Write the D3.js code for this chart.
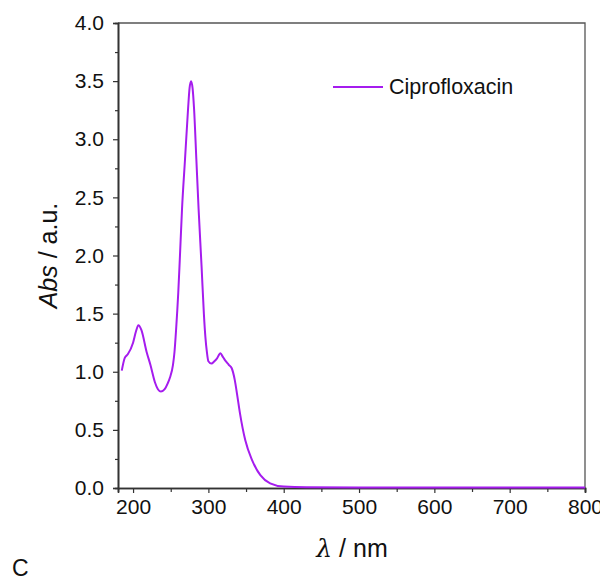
<!DOCTYPE html>
<html>
<head>
<meta charset="utf-8">
<script src="https://cdn.jsdelivr.net/npm/d3@7"></script>
<style>
  body { margin: 0; background: #fff; }
  svg text { font-family: "Liberation Sans", Arial, sans-serif; fill: #111; }
</style>
</head>
<body>
<svg id="chart" width="600" height="578"></svg>
<script>
// wavelength (nm) and absorbance
const wavelength = [185, 189, 193, 200, 204, 207, 211, 218, 223, 229, 233, 237, 242, 246, 249, 253, 255, 257, 260, 262, 265, 269, 273, 275, 277, 279, 281, 284, 287, 291, 294, 296, 298, 300, 304, 308, 311, 316, 319, 322, 327, 331, 335, 338, 342, 349, 358, 369, 382, 400, 430, 500, 600, 700, 800];
const absorbance = [1.01, 1.12, 1.15, 1.25, 1.35, 1.40, 1.36, 1.17, 1.06, 0.91, 0.85, 0.83, 0.85, 0.90, 0.95, 1.06, 1.17, 1.35, 1.68, 1.96, 2.40, 2.83, 3.26, 3.44, 3.50, 3.44, 3.26, 2.83, 2.40, 1.90, 1.50, 1.30, 1.17, 1.09, 1.07, 1.09, 1.11, 1.16, 1.13, 1.10, 1.06, 1.03, 0.93, 0.81, 0.64, 0.41, 0.24, 0.11, 0.04, 0.012, 0.006, 0.005, 0.005, 0.005, 0.005];
const seriesName = "Ciprofloxacin";
const xTicks = [200, 300, 400, 500, 600, 700, 800];
const yTicks = [0, 0.5, 1.0, 1.5, 2.0, 2.5, 3.0, 3.5, 4.0];

const svg = d3.select("#chart");
const margin = {left: 118, top: 23, right: 15, bottom: 90};
const W = 600, H = 578;

const x = d3.scaleLinear().domain([180, 800]).range([margin.left, W - margin.right]);
const y = d3.scaleLinear().domain([0, 4]).range([H - margin.bottom, margin.top]);

const axisColor = "#333";

// frame (top + right)
svg.append("path")
  .attr("d", `M${x(180)},${y(4)}H${x(800)}V${y(0)}`)
  .attr("fill", "none").attr("stroke", "#555").attr("stroke-width", 1.3);

// x axis: minor + major ticks, outward
const gx = svg.append("g").attr("transform", `translate(0,${y(0)})`);
gx.append("g").call(d3.axisBottom(x).tickValues(d3.range(250, 800, 100)).tickSize(4).tickFormat(""));
gx.append("g").call(d3.axisBottom(x).tickValues(xTicks).tickSize(5).tickFormat(d3.format("d")).tickPadding(6));
gx.selectAll("text").style("font-size", "21px");

// y axis
const gy = svg.append("g").attr("transform", `translate(${x(180)},0)`);
gy.append("g").call(d3.axisLeft(y).tickValues(d3.range(0.25, 4, 0.5)).tickSize(3).tickFormat(""));
gy.append("g").call(d3.axisLeft(y).tickValues(yTicks).tickSize(5).tickFormat(d3.format(".1f")).tickPadding(9));
gy.selectAll("text").style("font-size", "21px");

svg.selectAll(".domain").attr("stroke", axisColor).attr("stroke-width", 1.6);
svg.selectAll(".tick line").attr("stroke", axisColor).attr("stroke-width", 1.2);

// spectrum
const pts = wavelength.map((w, i) => [w, absorbance[i]]);
const line = d3.line().x(d => x(d[0])).y(d => y(d[1])).curve(d3.curveMonotoneX);
svg.append("path").datum(pts)
  .attr("d", line)
  .attr("fill", "none").attr("stroke", "#a51cee").attr("stroke-width", 2);

// legend
svg.append("line").attr("x1", 333).attr("x2", 383).attr("y1", 87).attr("y2", 87)
  .attr("stroke", "#a51cee").attr("stroke-width", 2);
svg.append("text").attr("x", 389).attr("y", 94).style("font-size", "21.5px").text(seriesName);

// axis titles
const yl = svg.append("text")
  .attr("transform", `translate(57,${(y(0) + y(4)) / 2}) rotate(-90)`)
  .attr("text-anchor", "middle").style("font-size", "25px");
yl.append("tspan").style("font-style", "italic").text("Abs");
yl.append("tspan").text(" / a.u.");

const xl = svg.append("text")
  .attr("x", 352).attr("y", 557)
  .attr("text-anchor", "middle").style("font-size", "25px");
xl.append("tspan").style("font-style", "italic").style("font-family", "'DejaVu Serif', serif").text("λ");
xl.append("tspan").text(" / nm");

svg.append("text").attr("x", 12).attr("y", 576).style("font-size", "23px").text("C");
</script>
</body>
</html>
